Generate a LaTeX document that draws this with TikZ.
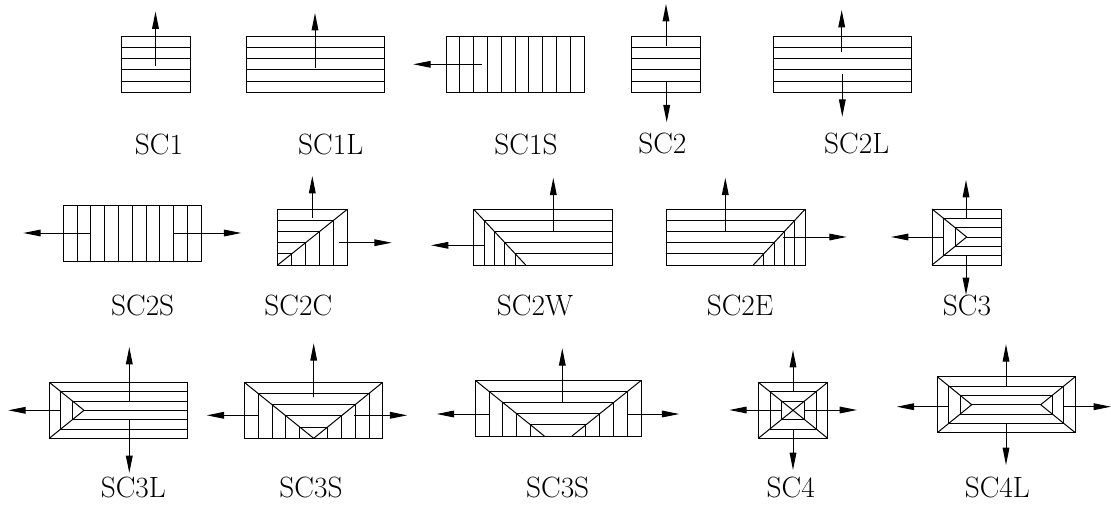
\documentclass[tikz,border=0pt]{standalone}
\usetikzlibrary{arrows.meta}

\begin{document}
\begin{tikzpicture}[x=0.75pt, y=-0.75pt, line width=0.75pt,
	flow/.style={-{Triangle[length=13pt, width=5pt]}},
	caption/.style={anchor=base, inner sep=0pt, font=\fontsize{22}{26}\selectfont}]
	\useasboundingbox (0, 0) rectangle (1111, 504);

	% row one
	\draw (121, 36.3) rectangle (190.3, 92.3);
	\foreach \hy in {47.5, 58.7, 69.9, 81.1} \draw (121, \hy) -- (190.3, \hy);
	\draw[flow] (155.5, 66) -- (155.5, 11.5);
	\node[caption] (sc1) at (159, 154) {SC1};

	\draw (246, 36.3) rectangle (384.5, 92.3);
	\foreach \hy in {47.5, 58.7, 69.9, 81.1} \draw (246, \hy) -- (384.5, \hy);
	\draw[flow] (315, 67.7) -- (315, 13);
	\node[caption] (sc1l) at (330.7, 154) {SC1L};

	\draw (446, 36.3) rectangle (584, 92.3);
	\foreach \vx in {459.8, 473.6, 487.4, 501.2, 515, 528.8, 542.6, 556.4, 570.2}
		\draw (\vx, 36.3) -- (\vx, 92.3);
	\draw[flow] (481.7, 64.3) -- (413.3, 64.3);
	\node[caption] (sc1s) at (526, 154) {SC1S};

	\draw (631.7, 36.3) rectangle (700.7, 92.3);
	\foreach \hy in {47.5, 58.7, 69.9, 81.1} \draw (631.7, \hy) -- (700.7, \hy);
	\draw[flow] (666, 46) -- (666, 4);
	\draw[flow] (666.7, 81) -- (666.7, 122.3);
	\node[caption] (sc2) at (662.3, 153.5) {SC2};

	\draw (773.3, 36.3) rectangle (911.3, 92.3);
	\foreach \hy in {47.5, 58.7, 69.9, 81.1} \draw (773.3, \hy) -- (911.3, \hy);
	\draw[flow] (841.7, 52.3) -- (841.7, 10);
	\draw[flow] (842.3, 74) -- (842.3, 116.7);
	\node[caption] (sc2l) at (856.7, 153.5) {SC2L};

	% row two
	\draw (63.3, 205) rectangle (201.3, 261.3);
	\foreach \vx in {77.1, 90.9, 104.7, 118.5, 132.3, 146.1, 159.9, 173.7, 187.5}
		\draw (\vx, 205) -- (\vx, 261.3);
	\draw[flow] (91.3, 233) -- (23.3, 233);
	\draw[flow] (174, 233) -- (241.3, 233);
	\node[caption] (sc2s) at (142.7, 315.7) {SC2S};

	\draw (277.7, 209.3) rectangle (347.3, 265);
	\draw (277.7, 265) -- (347.3, 209.3);
	\foreach \hx/\hy in {291.6/253.9, 305.5/242.7, 319.4/231.6, 333.4/220.4}
		\draw (277.7, \hy) -- (\hx, \hy) -- (\hx, 265);
	\draw[flow] (312.3, 218.3) -- (312.3, 176);
	\draw[flow] (338.7, 242.7) -- (391.7, 242.7);
	\node[caption] (sc2c) at (298.3, 315.7) {SC2C};

	\draw (473.7, 209.3) rectangle (612.3, 265);
	\draw (473.7, 209.3) -- (525.7, 265);
	\foreach \hx/\hy in {484.1/220.4, 494.5/231.5, 504.9/242.7, 515.3/253.8}
		\draw (612.3, \hy) -- (\hx, \hy) -- (\hx, 265);
	\draw[flow] (553.3, 231.7) -- (553.3, 177.7);
	\draw[flow] (484, 245.3) -- (431, 245.3);
	\node[caption] (sc2w) at (535, 315.7) {SC2W};

	\draw (666.7, 209.3) rectangle (805, 265);
	\draw (805, 209.3) -- (753.3, 265);
	\foreach \hx/\hy in {794.7/220.4, 784.3/231.5, 774/242.7, 763.6/253.8}
		\draw (666.7, \hy) -- (\hx, \hy) -- (\hx, 265);
	\draw[flow] (725.3, 231.7) -- (725.3, 177.7);
	\draw[flow] (783.3, 237) -- (846.7, 237);
	\node[caption] (sc2e) at (740, 315.7) {SC2E};

	\draw (932, 209) rectangle (1001.3, 265);
	\draw (932, 209) -- (966.7, 237) -- (932, 265);
	\draw (1001.3, 218.3) -- (943.5, 218.3) -- (943.5, 255.7) -- (1001.3, 255.7);
	\draw (1001.3, 227.7) -- (955, 227.7) -- (955, 246.3) -- (1001.3, 246.3);
	\draw (966.7, 237) -- (1001.3, 237);
	\draw[flow] (966, 218.3) -- (966, 180);
	\draw[flow] (966, 255.7) -- (966, 295);
	\draw[flow] (943.5, 237) -- (891, 237);
	\node[caption] (sc3) at (967, 315.7) {SC3};

	% row three
	\draw (49.3, 382.3) rectangle (187.3, 438.3);
	\draw (49.3, 382.3) -- (84, 410.3) -- (49.3, 438.3);
	\draw (187.3, 391.6) -- (60.9, 391.6) -- (60.9, 429) -- (187.3, 429);
	\draw (187.3, 401) -- (72.4, 401) -- (72.4, 419.7) -- (187.3, 419.7);
	\draw (84, 410.3) -- (187.3, 410.3);
	\draw[flow] (129.3, 401) -- (129.3, 347);
	\draw[flow] (129.3, 419.7) -- (129.3, 473);
	\draw[flow] (60.9, 410.3) -- (8.3, 410.3);
	\node[caption] (sc3l) at (133.3, 497.3) {SC3L};

	\draw (244.3, 382.3) rectangle (382.7, 438.3);
	\draw (244.3, 382.3) -- (313.7, 438.3) -- (382.7, 382.3);
	\foreach \lx/\rx/\hy in {258.2/369/393.5, 272/355.1/404.7, 285.8/341.4/415.9, 299.7/327.5/427.1}
		\draw (\lx, 438.3) -- (\lx, \hy) -- (\rx, \hy) -- (\rx, 438.3);
	\draw[flow] (313.7, 397.3) -- (313.7, 343.3);
	\draw[flow] (258.3, 415.3) -- (206.7, 415.3);
	\draw[flow] (354.3, 415.3) -- (407.3, 415.3);
	\node[caption] (sc3s) at (311, 497.3) {SC3S};

	\draw (475.3, 380.3) rectangle (641.3, 436);
	\draw (475.3, 380.3) -- (544.3, 436);
	\draw (641.3, 380.3) -- (572, 436);
	\foreach \lx/\rx/\hy in {489.1/627.4/391.4, 502.9/613.6/402.6, 516.7/599.7/413.7, 530.5/585.9/424.9}
		\draw (\lx, 436) -- (\lx, \hy) -- (\rx, \hy) -- (\rx, 436);
	\draw[flow] (562.3, 402.6) -- (562.3, 348.3);
	\draw[flow] (489.1, 414) -- (436.7, 414);
	\draw[flow] (627.4, 414) -- (679.3, 414);
	\node[caption] (sc3w) at (557.7, 497.5) {SC3S};

	\draw (758.3, 382.3) rectangle (827.7, 438.3);
	\draw (770, 391.7) rectangle (816.3, 429);
	\draw (781.7, 401) rectangle (804.7, 419.7);
	\draw (758.3, 382.3) -- (827.7, 438.3);
	\draw (827.7, 382.3) -- (758.3, 438.3);
	\draw[flow] (793, 391.7) -- (793, 350);
	\draw[flow] (793, 429) -- (793, 470);
	\draw[flow] (781.7, 410) -- (729.3, 410);
	\draw[flow] (804.7, 410) -- (857, 410);
	\node[caption] (sc4) at (790.7, 497.3) {SC4};

	\draw (937.3, 376.7) rectangle (1075.3, 432.7);
	\draw (948.8, 386) rectangle (1063.8, 423.4);
	\draw (960.2, 395.4) rectangle (1052.2, 414);
	\draw (937.3, 376.7) -- (971.7, 404.7) -- (937.3, 432.7);
	\draw (1075.3, 376.7) -- (1040.7, 404.7) -- (1075.3, 432.7);
	\draw (971.7, 404.7) -- (1040.7, 404.7);
	\draw[flow] (1006, 386) -- (1006, 344.3);
	\draw[flow] (1006, 423.4) -- (1006, 465);
	\draw[flow] (948.8, 406.7) -- (896.7, 406.7);
	\draw[flow] (1063.8, 406.7) -- (1111, 406.7);
	\node[caption] (sc4l) at (997.3, 497.3) {SC4L};
\end{tikzpicture}
\end{document}
